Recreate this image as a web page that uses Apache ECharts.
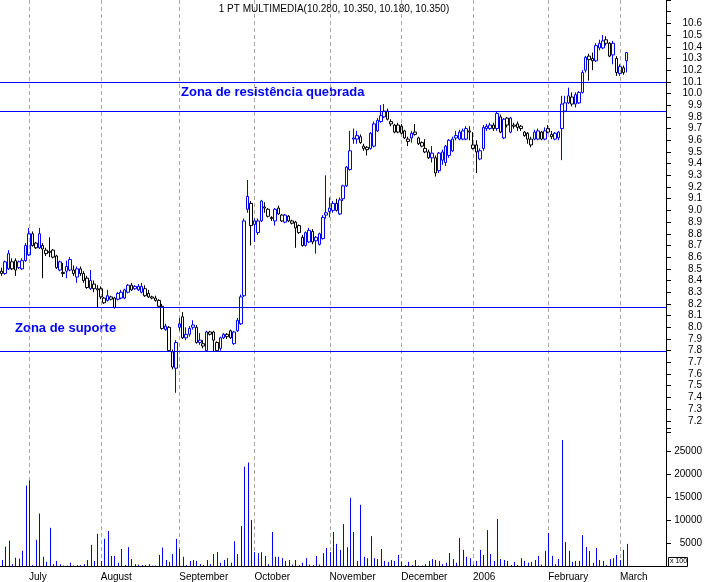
<!DOCTYPE html>
<html>
<head>
<meta charset="utf-8">
<title>PT Multimedia</title>
<script src="https://cdn.jsdelivr.net/npm/echarts/dist/echarts.min.js"></script>
<style>
  html, body { margin: 0; padding: 0; background: #fff; }
  #main { width: 707px; height: 582px; }
</style>
</head>
<body>
<div id="main"></div>
<script>
// one category slot per trading day, extra empty slots up to the axis
const days = [];
for (let i = 0; i < 195; i++) days.push(String(i));

const monthStarts = [8, 29, 52, 74, 96, 117, 138, 160, 181];
const monthNames = ['July', 'August', 'September', 'October', 'November', 'December', '2006', 'February', 'March'];
// first trading day of each week
const weekTicks = [4, 9, 14, 19, 24, 29, 34, 39, 44, 49, 54, 59, 64, 69, 74, 79, 84, 89, 94, 100, 105, 110, 115, 119, 124, 129, 134, 138, 143, 148, 153, 158, 163, 168, 173, 179, 184, 189, 194];

const opens = [
  8.48, 8.46, 8.50, 8.56, 8.57, 8.51, 8.50, 8.57, 8.62, 8.80,
  8.72, 8.68, 8.70, 8.63, 8.65, 8.66, 8.61, 8.49, 8.47, 8.52,
  8.49, 8.49, 8.43, 8.50, 8.46, 8.42, 8.33, 8.37, 8.33, 8.33,
  8.21, 8.23, 8.26, 8.25, 8.24, 8.25, 8.25, 8.30, 8.36, 8.33,
  8.32, 8.30, 8.33, 8.29, 8.26, 8.25, 8.23, 8.18, 7.98, 8.00,
  7.79, 7.65, 8.00, 8.09, 7.91, 7.94, 8.02, 8.00, 7.87, 7.86,
  7.80, 7.96, 7.96, 7.87, 7.82, 7.91, 7.94, 7.97, 7.86, 7.97,
  8.03, 8.27, 9.01, 9.06, 8.91, 8.81, 8.91, 9.03, 9.01, 8.94,
  8.91, 9.02, 8.96, 8.90, 8.95, 8.91, 8.90, 8.87, 8.77, 8.70,
  8.73, 8.82, 8.74, 8.71, 8.76, 8.96, 9.02, 9.00, 9.06, 8.97,
  9.10, 9.21, 9.35, 9.61, 9.61, 9.63, 9.55, 9.54, 9.53, 9.55,
  9.68, 9.76, 9.80, 9.85, 9.76, 9.67, 9.73, 9.72, 9.68, 9.61,
  9.62, 9.67, 9.62, 9.58, 9.53, 9.50, 9.45, 9.45, 9.34, 9.43,
  9.41, 9.47, 9.51, 9.62, 9.61, 9.61, 9.61, 9.68, 9.53, 9.56,
  9.44, 9.53, 9.70, 9.70, 9.73, 9.70, 9.80, 9.62, 9.79, 9.67,
  9.73, 9.74, 9.72, 9.67, 9.66, 9.61, 9.61, 9.61, 9.61, 9.61,
  9.70, 9.63, 9.61, 9.62, 9.70, 9.85, 9.92, 9.97, 9.91, 9.92,
  10.01, 10.20, 10.32, 10.30, 10.28, 10.39, 10.39, 10.46, 10.43, 10.43,
  10.30, 10.17, 10.22, 10.28
];
const closes = [
  8.46, 8.56, 8.63, 8.50, 8.49, 8.56, 8.57, 8.70, 8.80, 8.70,
  8.68, 8.80, 8.67, 8.66, 8.64, 8.60, 8.51, 8.56, 8.46, 8.48,
  8.58, 8.46, 8.50, 8.46, 8.40, 8.34, 8.40, 8.33, 8.32, 8.26,
  8.25, 8.27, 8.24, 8.17, 8.29, 8.30, 8.32, 8.36, 8.32, 8.35,
  8.35, 8.35, 8.27, 8.26, 8.25, 8.23, 8.18, 7.99, 8.01, 7.80,
  7.66, 7.87, 8.03, 7.91, 7.94, 7.99, 8.00, 7.87, 7.89, 7.84,
  7.96, 7.94, 7.89, 7.80, 7.91, 7.94, 7.92, 7.91, 7.96, 8.06,
  8.26, 8.91, 9.12, 8.87, 8.88, 8.91, 9.08, 9.02, 8.95, 8.93,
  9.01, 8.97, 8.91, 8.96, 8.91, 8.89, 8.85, 8.81, 8.70, 8.81,
  8.83, 8.73, 8.77, 8.80, 8.94, 8.98, 8.99, 9.06, 9.00, 9.09,
  9.21, 9.37, 9.51, 9.62, 9.64, 9.58, 9.53, 9.52, 9.66, 9.74,
  9.77, 9.81, 9.85, 9.78, 9.74, 9.73, 9.67, 9.66, 9.62, 9.59,
  9.66, 9.65, 9.57, 9.55, 9.50, 9.45, 9.49, 9.32, 9.49, 9.50,
  9.55, 9.60, 9.61, 9.64, 9.67, 9.68, 9.70, 9.67, 9.56, 9.50,
  9.51, 9.71, 9.72, 9.73, 9.70, 9.83, 9.67, 9.78, 9.73, 9.79,
  9.72, 9.71, 9.70, 9.64, 9.61, 9.56, 9.67, 9.68, 9.67, 9.68,
  9.67, 9.65, 9.66, 9.67, 9.91, 9.92, 9.98, 9.91, 9.99, 10.01,
  10.18, 10.31, 10.29, 10.28, 10.41, 10.43, 10.45, 10.43, 10.32, 10.33,
  10.18, 10.23, 10.18, 10.35
];
const highs = [
  8.51, 8.57, 8.66, 8.59, 8.59, 8.57, 8.59, 8.72, 8.85, 8.82,
  8.73, 8.85, 8.72, 8.68, 8.77, 8.67, 8.62, 8.57, 8.55, 8.57,
  8.60, 8.53, 8.52, 8.52, 8.48, 8.44, 8.49, 8.40, 8.36, 8.35,
  8.26, 8.32, 8.27, 8.26, 8.30, 8.32, 8.33, 8.37, 8.38, 8.36,
  8.37, 8.38, 8.36, 8.32, 8.27, 8.27, 8.24, 8.20, 8.03, 8.01,
  7.81, 7.89, 8.08, 8.13, 8.00, 8.01, 8.06, 8.02, 7.95, 7.89,
  7.97, 7.97, 7.97, 7.88, 7.92, 7.95, 7.95, 7.98, 7.97, 8.08,
  8.28, 8.93, 9.26, 9.08, 8.93, 8.93, 9.09, 9.07, 9.02, 8.95,
  9.02, 9.04, 8.97, 8.97, 8.96, 8.92, 8.91, 8.88, 8.79, 8.82,
  8.85, 8.84, 8.78, 8.81, 8.96, 9.30, 9.11, 9.08, 9.10, 9.11,
  9.22, 9.38, 9.68, 9.70, 9.68, 9.65, 9.57, 9.55, 9.67, 9.76,
  9.79, 9.90, 9.91, 9.87, 9.78, 9.74, 9.75, 9.74, 9.69, 9.63,
  9.68, 9.74, 9.63, 9.59, 9.61, 9.52, 9.55, 9.47, 9.50, 9.52,
  9.56, 9.61, 9.63, 9.68, 9.69, 9.70, 9.72, 9.72, 9.67, 9.60,
  9.53, 9.73, 9.74, 9.75, 9.75, 9.85, 9.82, 9.79, 9.80, 9.80,
  9.75, 9.76, 9.73, 9.68, 9.67, 9.63, 9.69, 9.70, 9.68, 9.71,
  9.73, 9.68, 9.67, 9.68, 9.98, 9.98, 10.05, 10.01, 10.01, 10.02,
  10.20, 10.32, 10.34, 10.35, 10.43, 10.46, 10.50, 10.49, 10.44, 10.45,
  10.32, 10.25, 10.24, 10.35
];
const lows = [
  8.44, 8.45, 8.49, 8.49, 8.44, 8.50, 8.49, 8.56, 8.61, 8.69,
  8.67, 8.67, 8.42, 8.61, 8.60, 8.59, 8.50, 8.48, 8.43, 8.42,
  8.48, 8.44, 8.38, 8.44, 8.38, 8.33, 8.32, 8.30, 8.17, 8.24,
  8.20, 8.22, 8.23, 8.16, 8.23, 8.24, 8.24, 8.29, 8.31, 8.32,
  8.31, 8.29, 8.26, 8.25, 8.24, 8.22, 8.17, 7.98, 7.97, 7.79,
  7.64, 7.44, 7.97, 7.90, 7.89, 7.92, 7.98, 7.86, 7.85, 7.82,
  7.79, 7.93, 7.79, 7.79, 7.80, 7.90, 7.90, 7.90, 7.85, 7.96,
  8.02, 8.26, 8.98, 8.70, 8.73, 8.79, 8.90, 8.98, 8.94, 8.91,
  8.87, 8.96, 8.90, 8.89, 8.90, 8.88, 8.68, 8.80, 8.69, 8.69,
  8.72, 8.71, 8.63, 8.70, 8.75, 8.93, 8.94, 8.98, 8.99, 8.96,
  9.08, 9.20, 9.34, 9.57, 9.57, 9.57, 9.51, 9.47, 9.52, 9.54,
  9.67, 9.75, 9.79, 9.77, 9.72, 9.66, 9.66, 9.65, 9.61, 9.55,
  9.58, 9.64, 9.56, 9.54, 9.49, 9.44, 9.41, 9.29, 9.32, 9.39,
  9.38, 9.45, 9.50, 9.60, 9.60, 9.60, 9.60, 9.60, 9.52, 9.32,
  9.43, 9.51, 9.68, 9.69, 9.68, 9.68, 9.66, 9.61, 9.71, 9.66,
  9.70, 9.68, 9.68, 9.63, 9.57, 9.54, 9.60, 9.60, 9.60, 9.60,
  9.66, 9.61, 9.60, 9.60, 9.43, 9.84, 9.91, 9.89, 9.88, 9.91,
  10.00, 10.18, 10.11, 10.20, 10.27, 10.37, 10.38, 10.41, 10.31, 10.25,
  10.15, 10.15, 10.16, 10.18
];
// volume, in hundreds of shares
const volumes = [
  1300, 4200, 5500, 400, 1800, 1600, 3300, 17500, 18600, 200,
  5700, 11400, 2000, 900, 8300, 400, 1100, 400, 100, 100,
  700, 100, 200, 200, 400, 1300, 4600, 1100, 7000, 1100,
  5900, 7600, 2200, 2200, 700, 3700, 200, 4100, 1500, 400,
  300, 200, 200, 400, 100, 100, 2400, 4000, 1300, 900,
  2600, 5900, 3700, 2000, 200, 1100, 1300, 1100, 400, 200,
  1300, 400, 2600, 3000, 700, 1300, 1700, 700, 5400, 2600,
  8700, 21600, 22500, 10000, 3000, 2800, 3000, 2200, 400, 7400,
  2000, 2000, 1700, 1100, 1300, 300, 1300, 200, 700, 1700,
  300, 200, 2200, 300, 2800, 3900, 3000, 7400, 4800, 3500,
  9100, 4100, 14800, 7400, 1100, 13300, 2000, 1700, 6500, 1700,
  1500, 3700, 1100, 900, 1300, 1100, 2400, 900, 200, 900,
  200, 1300, 100, 100, 400, 1100, 1500, 1300, 1100, 400,
  700, 2800, 1500, 700, 6100, 3500, 2000, 1700, 300, 1100,
  3500, 2400, 7800, 2600, 1100, 10200, 1500, 1300, 1100, 200,
  900, 200, 1700, 1100, 700, 900, 1300, 2200, 300, 3300,
  7200, 2200, 400, 1500, 27400, 5200, 3300, 900, 1100, 1100,
  6700, 4100, 3300, 700, 3900, 1300, 1100, 200, 1500, 1700,
  2400, 1300, 3500, 4800
];

const levelLines = [10.1, 9.85, 8.175, 7.8];

const BLUE = '#0000ff';
const GRID_GRAY = '#a8a8a8';
const FONT = 'Liberation Sans, Arial, sans-serif';

// hollow when close > open, colour blue when close >= previous close
const candles = opens.map((o, i) => {
  const c = closes[i];
  const prev = i > 0 ? closes[i - 1] : c + 1;
  const col = c >= prev ? BLUE : '#000000';
  return {
    value: [o, c, lows[i], highs[i]],
    itemStyle: {
      color: 'rgba(255,255,255,0)',
      color0: col,
      borderColor: col,
      borderColor0: col,
      borderColorDoji: col
    }
  };
});

// crisp 1px helpers (snap to pixel centres)
const snap = (v) => Math.round(v) + 0.5;

const monthLineSeries = (gridIdx, xIdx) => ({
  type: 'custom', xAxisIndex: xIdx, yAxisIndex: gridIdx, silent: true, z: 1,
  data: monthStarts.map(i => [i]),
  encode: { x: 0 },
  renderItem: (params, api) => {
    const cs = params.coordSys;
    const x = snap(api.coord([api.value(0), 0])[0]);
    return {
      type: 'line',
      shape: { x1: x, y1: cs.y, x2: x, y2: cs.y + cs.height },
      style: { stroke: GRID_GRAY, lineWidth: 1, lineDash: [4, 3] }
    };
  }
});

const chart = echarts.init(document.getElementById('main'));
chart.setOption({
  animation: false,
  backgroundColor: '#fff',
  textStyle: { fontFamily: FONT },
  grid: [
    { left: 0, top: -2, width: 666, height: 434.5 },
    { left: 0, top: 428, width: 666, height: 138 }
  ],
  xAxis: [
    {
      type: 'category', gridIndex: 0, data: days,
      axisLine: { show: false }, axisTick: { show: false },
      axisLabel: { show: false }, splitLine: { show: false }
    },
    {
      type: 'category', gridIndex: 1, data: days, position: 'bottom',
      axisLine: { lineStyle: { color: '#000', width: 1 } },
      axisTick: {
        alignWithLabel: true, length: 4,
        interval: (i) => weekTicks.includes(i),
        lineStyle: { color: '#000' }
      },
      axisLabel: {
        interval: (i) => monthStarts.includes(i),
        formatter: (v) => monthNames[monthStarts.indexOf(Number(v))] || '',
        align: 'left', margin: 6, fontSize: 10, color: '#000'
      },
      splitLine: { show: false }
    },
    {
      type: 'category', gridIndex: 1, data: days, position: 'bottom',
      axisLine: { show: false },
      axisTick: {
        alignWithLabel: true, length: 16,
        interval: (i) => monthStarts.includes(i),
        lineStyle: { color: '#000' }
      },
      axisLabel: { show: false },
      splitLine: { show: false }
    }
  ],
  yAxis: [
    {
      type: 'value', gridIndex: 0, position: 'right',
      min: 7.1, max: 10.8, interval: 0.1,
      axisLine: { show: true, lineStyle: { color: '#000' } },
      axisTick: { show: true, length: 5, lineStyle: { color: '#000' } },
      axisLabel: {
        formatter: (v) => (v > 7.15 && v < 10.65) ? v.toFixed(1) : '',
        align: 'right', margin: 36, fontSize: 10, color: '#000'
      },
      splitLine: { show: false }
    },
    {
      type: 'value', gridIndex: 1, position: 'right',
      min: 0, max: 30000, interval: 5000,
      axisLine: { show: true, lineStyle: { color: '#000' } },
      axisTick: { show: true, length: 5, lineStyle: { color: '#000' } },
      axisLabel: {
        formatter: (v) => (v > 0 && v < 30000) ? String(v) : '',
        align: 'right', margin: 36, fontSize: 10, color: '#000'
      },
      splitLine: { show: false }
    }
  ],
  series: [
    monthLineSeries(0, 0),
    monthLineSeries(1, 1),
    {
      type: 'candlestick', xAxisIndex: 0, yAxisIndex: 0, z: 3,
      data: candles, barWidth: 3,
      itemStyle: { borderWidth: 1 },
      emphasis: { disabled: true }
    },
    {
      // support / resistance levels
      type: 'custom', xAxisIndex: 0, yAxisIndex: 0, silent: true, z: 4,
      data: levelLines.map(v => [0, v]),
      encode: { y: 1 },
      renderItem: (params, api) => {
        const cs = params.coordSys;
        const y = snap(api.coord([0, api.value(1)])[1]);
        return {
          type: 'line',
          shape: { x1: cs.x, y1: y, x2: cs.x + cs.width, y2: y },
          style: { stroke: BLUE, lineWidth: 1 }
        };
      }
    },
    {
      type: 'custom', xAxisIndex: 1, yAxisIndex: 1, z: 3,
      data: volumes.map((v, i) => [i, v]),
      encode: { x: 0, y: 1 },
      renderItem: (params, api) => {
        const top = api.coord([api.value(0), api.value(1)]);
        const base = api.coord([api.value(0), 0]);
        const x = snap(top[0]);
        return {
          type: 'line',
          shape: { x1: x, y1: base[1], x2: x, y2: top[1] },
          style: { stroke: BLUE, lineWidth: 1 }
        };
      }
    }
  ],
  graphic: [
    {
      type: 'text', x: 334, y: 4,
      style: {
        text: '1 PT MULTIMEDIA(10.280, 10.350, 10.180, 10.350)',
        font: '10px ' + FONT, fill: '#000', textAlign: 'center'
      }
    },
    {
      type: 'text', x: 181, y: 86,
      style: {
        text: 'Zona de resistência quebrada',
        font: 'bold 13px ' + FONT, fill: BLUE
      }
    },
    {
      type: 'text', x: 15, y: 322,
      style: {
        text: 'Zona de suporte',
        font: 'bold 13px ' + FONT, fill: BLUE
      }
    },
    {
      type: 'rect', shape: { x: 668.5, y: 557.5, width: 19, height: 9 },
      style: { fill: '#fff', stroke: '#000', lineWidth: 1 }
    },
    {
      type: 'text', x: 670, y: 558,
      style: { text: 'x 100', font: '7px ' + FONT, fill: '#000' }
    }
  ]
});
</script>
</body>
</html>
